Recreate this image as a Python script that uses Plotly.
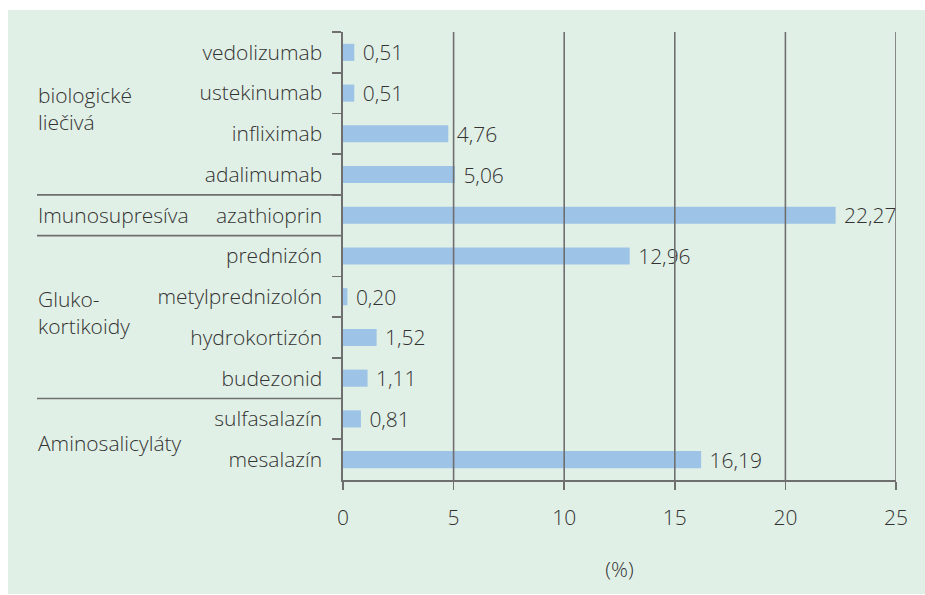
import plotly.graph_objects as go

categories = ["vedolizumab", "ustekinumab", "infliximab", "adalimumab", "azathioprin",
              "prednizón", "metylprednizolón", "hydrokortizón", "budezonid",
              "sulfasalazín", "mesalazín"]
values = [0.51, 0.51, 4.76, 5.06, 22.27, 12.96, 0.20, 1.52, 1.11, 0.81, 16.19]
groups = ["biologické<br>liečivá", "Imunosupresíva", "Gluko-<br>kortikoidy", "Aminosalicyláty"]
group_sizes = [4, 1, 4, 2]
x_ticks = [0, 5, 10, 15, 20, 25]
x_title = "(%)"

TXT = "#333333"
GRID = "#6f6f6f"
FONT = "Open Sans"
FS = 21
FW = 300

labels = ["\u00a0" + f"{v:.2f}".replace(".", ",") for v in values]

def f(size=FS):
    return dict(family=FONT, size=size, color=TXT, weight=FW)

fig = go.Figure(go.Bar(
    x=values, y=categories, orientation="h",
    marker=dict(color="#9dc3e6", line=dict(width=0)),
    text=labels, textposition="outside", cliponaxis=False, constraintext="none",
    textfont=f(), hoverinfo="skip",
    width=0.42,
))

# body margin is removed by post_script, figure origin at window (0, 0)
W, H = 925, 595
PL, PR, PT, PB = 343, 896, 32, 480
L, R, T, B = PL, W - PR, PT, H - PB
pw, ph = W - L - R, H - T - B

def px_to_xpaper(px):
    return (px - PL) / pw

def py_to_ypaper(py):
    return (PB - py) / ph

shapes = []
# green panel
shapes.append(dict(type="rect", xref="paper", yref="paper",
                   x0=px_to_xpaper(8), x1=px_to_xpaper(935),
                   y0=py_to_ypaper(594), y1=py_to_ypaper(10),
                   fillcolor="#e1f0e6", line=dict(width=0), layer="below"))
# vertical gridlines above bars
for t in x_ticks[1:]:
    shapes.append(dict(type="line", xref="x", yref="paper", x0=t, x1=t, y0=0, y1=1,
                       line=dict(color=GRID, width=1.6), layer="above"))
# group separators and labels
annotations = []
start = 0
for i, (g, n) in enumerate(zip(groups, group_sizes)):
    end = start + n
    center = (start + end - 1) / 2
    ys = 5 if "<br>" in g else (-4 if n == 2 else 0)
    annotations.append(dict(text=g, xref="paper", yref="y", x=px_to_xpaper(36), y=center,
                            xanchor="left", yanchor="middle", align="left", showarrow=False,
                            yshift=ys, font=f()))
    if i < len(groups) - 1:
        shapes.append(dict(type="line", xref="paper", yref="y",
                           x0=px_to_xpaper(37), x1=0, y0=end - 0.5, y1=end - 0.5,
                           line=dict(color="#6f6f6f", width=1.6), layer="above"))
    start = end

fig.update_layout(
    width=W, height=H,
    margin=dict(l=L, r=R, t=T, b=B, pad=0, autoexpand=False),
    paper_bgcolor="white", plot_bgcolor="white",
    showlegend=False, hovermode=False,
    font=f(),
    shapes=shapes, annotations=annotations,
    xaxis=dict(range=[0, 25], tickvals=x_ticks, ticktext=[str(t) for t in x_ticks],
               showgrid=False, zeroline=False, automargin=False, fixedrange=True,
               showline=True, linecolor=GRID, linewidth=1.6,
               ticks="outside", ticklen=8, tickwidth=1.6, tickcolor=GRID,
               ticklabelstandoff=10,
               tickfont=f(),
               title=dict(text=x_title, standoff=32, font=f())),
    yaxis=dict(categoryorder="array", categoryarray=categories, autorange="reversed",
               tickson="boundaries", showgrid=False, zeroline=False, automargin=False,
               fixedrange=True,
               showline=True, linecolor=GRID, linewidth=1.6,
               ticks="outside", ticklen=9, tickwidth=1.6, tickcolor=GRID,
               ticklabelstandoff=15,
               tickfont=f()),
    bargap=0.58,
)

fig.write_html("out.html", config={"displayModeBar": False, "staticPlot": True},
               post_script="document.body.style.margin='0';document.body.style.overflow='hidden';")
